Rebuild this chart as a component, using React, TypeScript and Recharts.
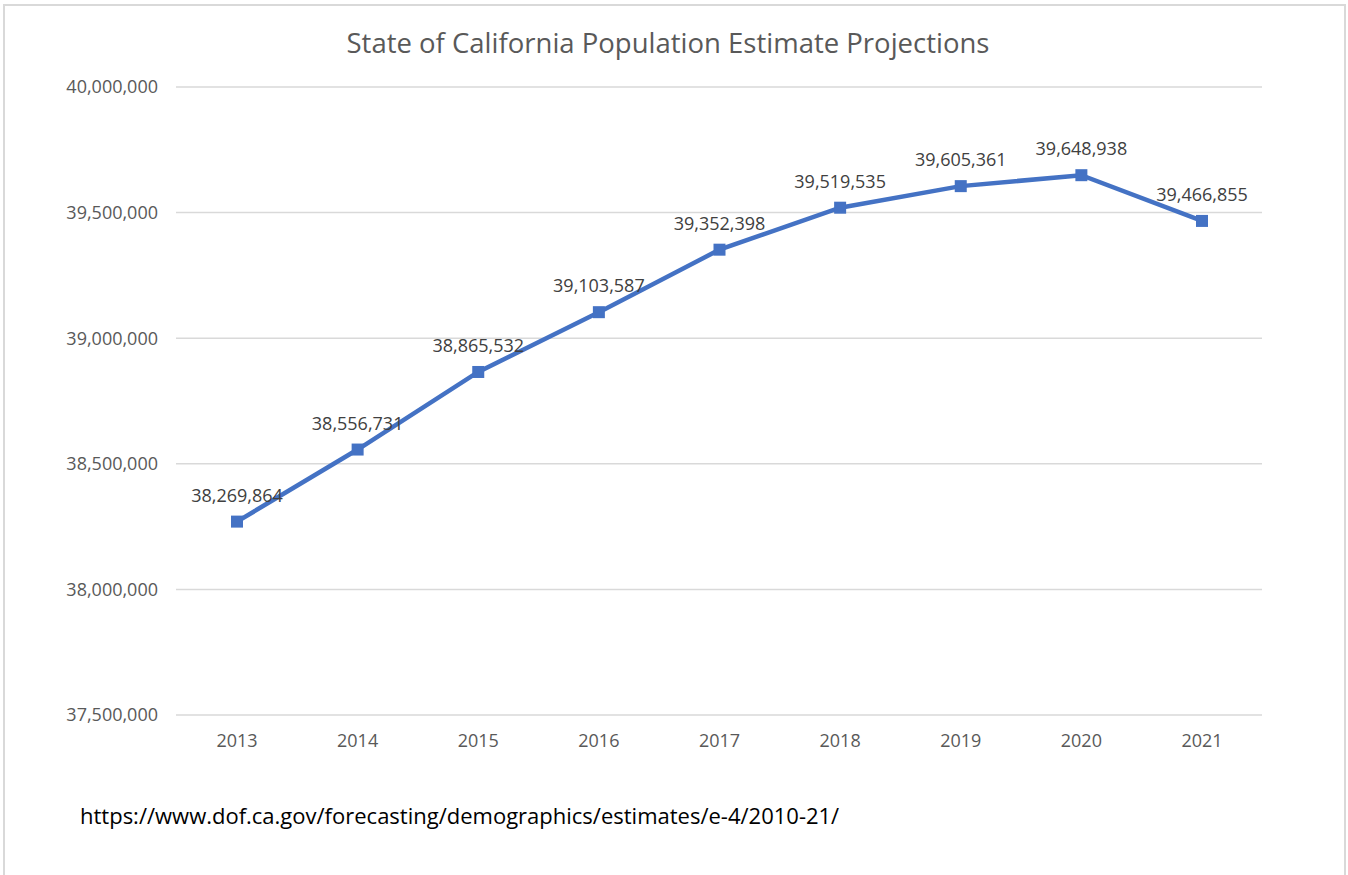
import React from "react";
import { LineChart, Line, XAxis, YAxis, CartesianGrid, LabelList } from "recharts";

const years = ["2013", "2014", "2015", "2016", "2017", "2018", "2019", "2020", "2021"];
const population = [38269864, 38556731, 38865532, 39103587, 39352398, 39519535, 39605361, 39648938, 39466855];
const yTicks = [37500000, 38000000, 38500000, 39000000, 39500000, 40000000];
const titleText = "State of California Population Estimate Projections";
const sourceText = "https://www.dof.ca.gov/forecasting/demographics/estimates/e-4/2010-21/";

const data = years.map((y, i) => ({ year: y, value: population[i] }));

const fmt = (v: number) => v.toLocaleString("en-US");
const FONT = "'Open Sans', 'Noto Sans', sans-serif";
const BLUE = "#4472C4";

const SquareDot = (props: any) => {
  const { cx, cy, index } = props;
  if (cx == null || cy == null) return <g key={`d${index}`} />;
  return <rect key={`d${index}`} x={cx - 6} y={cy - 6} width={12} height={12} fill={BLUE} />;
};

export default function App() {
  return (
    <div style={{ position: "absolute", left: 0, top: 0, width: 1348, height: 875, background: "#fff", overflow: "hidden", fontFamily: FONT }}>
      <div
        style={{
          position: "absolute",
          left: 3,
          top: 4,
          width: 1343,
          height: 880,
          border: "2px solid #d9d9d9",
          boxSizing: "border-box",
        }}
      />
      <div
        style={{
          position: "absolute",
          left: 4,
          width: 1340,
          top: 23,
          textAlign: "center",
          fontSize: 27.5,
          color: "#595959",
          lineHeight: "40px",
          paddingRight: 12,
          boxSizing: "border-box",
        }}
      >
        {titleText}
      </div>
      <div style={{ position: "absolute", left: 0, top: 0 }}>
        <LineChart width={1348} height={875} data={data} margin={{ top: 87, right: 86, bottom: 120, left: 0 }}>
          <CartesianGrid vertical={false} stroke="#d9d9d9" strokeWidth={1.5} />
          <XAxis
            dataKey="year"
            axisLine={false}
            tickLine={false}
            tickSize={0}
            tickMargin={19}
            height={40}
            padding={{ left: 61, right: 60 }}
            tick={{ fill: "#595959", fontSize: 18, fontFamily: FONT }}
          />
          <YAxis
            domain={[37500000, 40000000]}
            ticks={yTicks}
            tickFormatter={fmt}
            axisLine={false}
            tickLine={false}
            tickSize={0}
            tickMargin={18}
            width={176}
            tick={{ fill: "#595959", fontSize: 18, fontFamily: FONT }}
          />
          <Line
            dataKey="value"
            stroke={BLUE}
            strokeWidth={4.5}
            dot={SquareDot}
            activeDot={false}
            isAnimationActive={false}
          >
            <LabelList
              dataKey="value"
              position="top"
              offset={20}
              formatter={(v: any) => fmt(Number(v))}
              style={{ fill: "#404040", fontSize: 18, fontFamily: FONT }}
            />
          </Line>
        </LineChart>
      </div>
      <div style={{ position: "absolute", left: 80, top: 799, fontSize: 22, color: "#000", lineHeight: "32px" }}>
        {sourceText}
      </div>
    </div>
  );
}
